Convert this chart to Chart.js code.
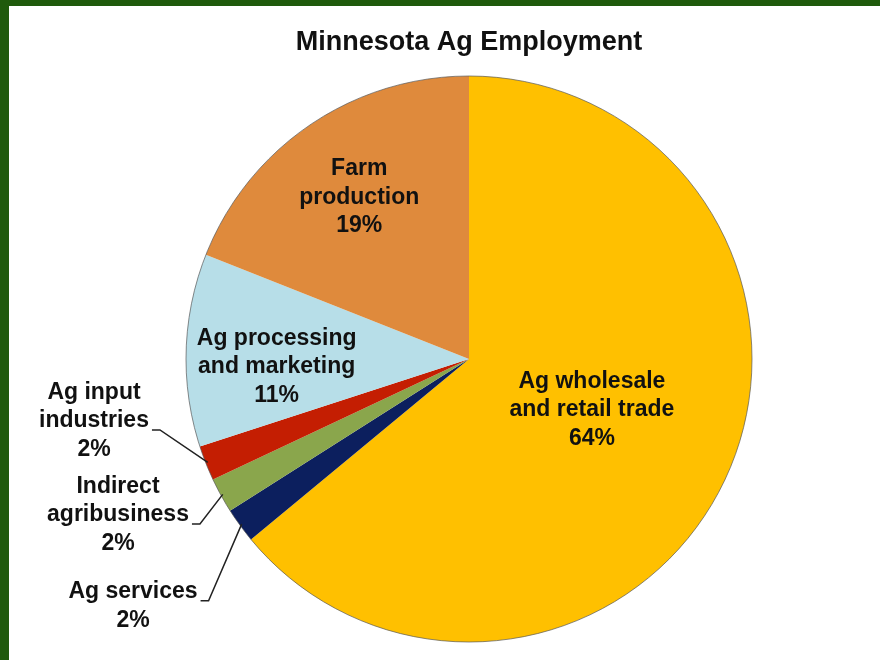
<!DOCTYPE html>
<html>
<head>
<meta charset="utf-8">
<script src="https://cdn.jsdelivr.net/npm/chart.js@4.4.1/dist/chart.umd.min.js"></script>
<style>
html, body { margin: 0; padding: 0; width: 880px; height: 660px; overflow: hidden; background: #1f5a0c; }
#panel { position: absolute; left: 9px; top: 6px; width: 871px; height: 654px; background: #fff; overflow: hidden; }
#myChart { position: absolute; left: 0; top: 0; }
</style>
</head>
<body>
<div id="panel"><canvas id="myChart" width="920" height="654"></canvas></div>
<script>
const sectors = [
    ['Ag wholesale', 'and retail trade'],
    ['Ag services'],
    ['Indirect', 'agribusiness'],
    ['Ag input', 'industries'],
    ['Ag processing', 'and marketing'],
    ['Farm', 'production']
];
const shares = [64, 2, 2, 2, 11, 19];
const sliceColors = ['#ffc000', '#0c1f5e', '#8aa64c', '#c41e02', '#b7dee8', '#df8a3c'];

// where each slice's text goes (inside: fraction of radius, outside: offset from centre + leader)
const labelPlace = [
    { inside: true, r: 0.48, shiftY: -7 },
    { inside: false, dx: -336, dy: 247, hook: 0 },
    { inside: false, dx: -351, dy: 156, hook: 1 },
    { inside: false, dx: -375, dy: 62, hook: 1 },
    { inside: true, r: 0.68, shiftY: 14 },
    { inside: true, r: 0.69, shiftY: 0 }
];

const fontFamily = '"Liberation Sans", Arial, sans-serif';

const sliceLabels = {
    id: 'sliceLabels',
    afterDatasetsDraw(chart) {
        const ctx = chart.ctx;
        const meta = chart.getDatasetMeta(0);
        const lh = 28.5;
        ctx.save();

        // thin outline round the pie
        const first = meta.data[0];
        ctx.beginPath();
        ctx.arc(first.x, first.y, first.outerRadius, 0, Math.PI * 2);
        ctx.lineWidth = 1;
        ctx.strokeStyle = 'rgba(90,90,90,0.7)';
        ctx.stroke();

        ctx.font = 'bold 23px ' + fontFamily;
        ctx.fillStyle = '#111';
        ctx.textAlign = 'center';
        ctx.textBaseline = 'middle';

        meta.data.forEach((arc, i) => {
            const p = arc.getProps(['x', 'y', 'startAngle', 'endAngle', 'outerRadius']);
            const mid = (p.startAngle + p.endAngle) / 2;
            const lines = [...sectors[i], shares[i] + '%'];
            const place = labelPlace[i];
            let cx, cy;
            if (place.inside) {
                cx = p.x + Math.cos(mid) * p.outerRadius * place.r;
                cy = p.y + Math.sin(mid) * p.outerRadius * place.r + place.shiftY;
            } else {
                cx = p.x + place.dx;
                cy = p.y + place.dy;
            }
            const top = cy - (lines.length - 1) * lh / 2;
            lines.forEach((t, k) => ctx.fillText(t, cx, top + k * lh));

            if (!place.inside) {
                const hx = cx + ctx.measureText(lines[place.hook]).width / 2 + 3;
                const hy = top + place.hook * lh + 9;
                const ex = p.x + Math.cos(mid) * (p.outerRadius - 2);
                const ey = p.y + Math.sin(mid) * (p.outerRadius - 2);
                ctx.beginPath();
                ctx.moveTo(hx, hy);
                ctx.lineTo(hx + 8, hy);
                ctx.lineTo(ex, ey);
                ctx.lineWidth = 1.5;
                ctx.strokeStyle = '#222';
                ctx.stroke();
            }
        });
        ctx.restore();
    }
};

const ctx = document.getElementById('myChart');

const myChart = new Chart(ctx, {
    type: 'pie',
    data: {
        labels: sectors,
        datasets: [{
            data: shares,
            backgroundColor: sliceColors,
            borderWidth: 0
        }]
    },
    options: {
        responsive: false,
        animation: false,
        layout: { padding: { top: 0, bottom: 18, left: 0, right: 0 } },
        plugins: {
            legend: { display: false },
            tooltip: { enabled: false },
            title: {
                display: true,
                text: 'Minnesota Ag Employment',
                color: '#111',
                font: { size: 27, weight: 'bold', family: fontFamily, lineHeight: 1.2 },
                padding: { top: 20, bottom: 17.6 }
            }
        }
    },
    plugins: [sliceLabels]
});
</script>
</body>
</html>
